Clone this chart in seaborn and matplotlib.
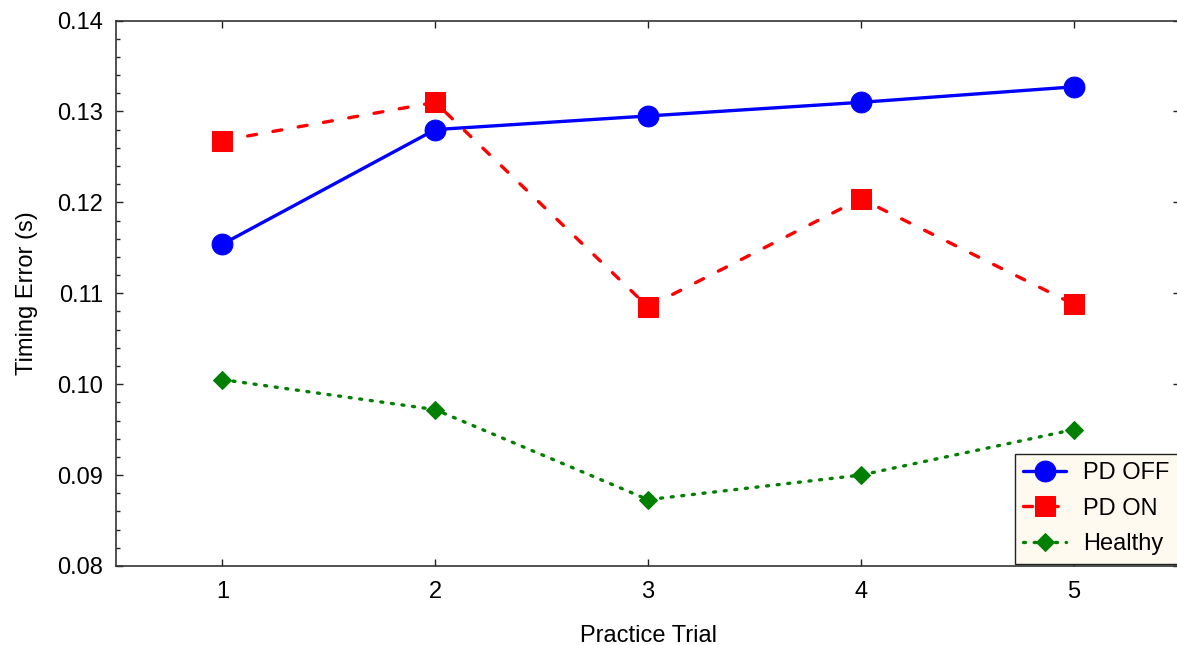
import matplotlib
matplotlib.use("Agg")
import matplotlib.pyplot as plt
from matplotlib.ticker import MultipleLocator
import seaborn as sns
import pandas as pd

trials = [1, 2, 3, 4, 5]
pd_off = [0.1154, 0.1280, 0.1295, 0.1310, 0.1327]
pd_on = [0.1268, 0.1310, 0.1085, 0.1204, 0.1088]
healthy = [0.1005, 0.0972, 0.0873, 0.0900, 0.0950]
groups = ["PD OFF", "PD ON", "Healthy"]

sns.set_style("ticks")
plt.rcParams['font.family'] = ['Liberation Sans', 'DejaVu Sans']
plt.rcParams['text.color'] = 'black'

fig = plt.figure(figsize=(11.77, 6.45), dpi=100)
ax = fig.add_axes([116/1177, 1 - 566/645, (1180 - 116)/1177, (566 - 20.5)/645])

styles = {
    "PD OFF": dict(color="#0000ff", marker="o", markersize=15, linestyle="-"),
    "PD ON": dict(color="#ff0000", marker="s", markersize=15, linestyle=(0, (2.7, 5))),
    "Healthy": dict(color="#007f00", marker="D", markersize=9, linestyle=(0, (0.6, 2.6))),
}
for name, vals in zip(groups, [pd_off, pd_on, healthy]):
    df = pd.DataFrame({"trial": trials, "value": vals})
    st = styles[name]
    sns.lineplot(data=df, x="trial", y="value", ax=ax, color=st["color"],
                 marker=st["marker"], markersize=st["markersize"],
                 markeredgecolor=st["color"], linewidth=2.4,
                 linestyle=st["linestyle"], dash_capstyle="round", label=name)

ax.set_xlim(0.5, 5.5)
ax.set_ylim(0.08, 0.14)
ax.set_xticks(trials)
ax.set_xticklabels([str(t) for t in trials])
ax.yaxis.set_major_locator(MultipleLocator(0.01))
ax.yaxis.set_minor_locator(MultipleLocator(0.002))
ax.yaxis.set_major_formatter(matplotlib.ticker.FormatStrFormatter('%.2f'))
ax.tick_params(axis='both', which='major', direction='in', length=5, width=1,
               labelsize=17, top=True, right=True, color='#222222', labelcolor='black')
ax.tick_params(axis='x', which='major', pad=10.5)
ax.tick_params(axis='y', which='major', pad=9)
ax.tick_params(axis='y', which='minor', direction='in', length=3, width=1, left=True, right=False, color='#222222')
for sp in ax.spines.values():
    sp.set_linewidth(1.2)
    sp.set_color('#333333')
    sp.set_visible(True)
ax.set_xlabel("Practice Trial", fontsize=17, labelpad=16, color='black')
ax.set_ylabel("Timing Error (s)", fontsize=17, labelpad=14, color='black')

leg = ax.legend(loc="lower right", fontsize=17, frameon=True, fancybox=False,
                facecolor="#fffaf0", edgecolor="#222222", framealpha=1,
                handlelength=1.85, handletextpad=0.7, borderaxespad=0.1,
                labelspacing=0.58, borderpad=0.35, labelcolor='black')
leg.get_frame().set_linewidth(1.0)

fig.savefig("out.png", dpi=100)
